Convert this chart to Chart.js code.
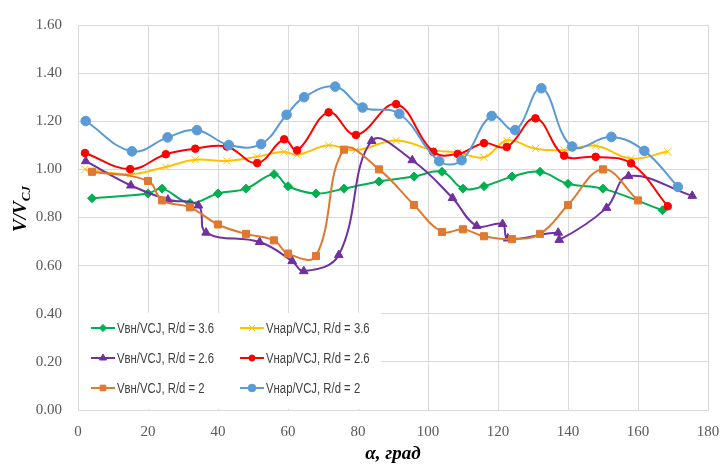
<!DOCTYPE html>
<html>
<head>
<meta charset="utf-8">
<script src="https://cdn.jsdelivr.net/npm/chart.js"></script>
<style>
  html, body { margin: 0; padding: 0; background: #fff; }
  #marco { width: 721px; height: 465px; position: relative; }
</style>
</head>
<body>
<div id="marco"><canvas id="grafica"></canvas></div>
<script>
// Valores: ángulo α (grad) y V/VCJ para cada serie
const angVn36 = [4, 20, 24, 32, 40, 48, 56, 60, 68, 76, 86, 96, 104, 110, 116, 124, 132, 140, 150, 167];
const valVn36 = [0.88, 0.90, 0.92, 0.86, 0.90, 0.92, 0.98, 0.93, 0.90, 0.92, 0.95, 0.97, 0.99, 0.92, 0.93, 0.97, 0.99, 0.94, 0.92, 0.83];

const angNar36 = [2, 15, 25, 33.5, 42.5, 51.2, 58.9, 62.6, 71.6, 79.4, 90.9, 101.5, 108.5, 116, 122.5, 130.7, 138.9, 147.9, 158, 168.5];
const valNar36 = [1.00, 0.98, 1.01, 1.04, 1.035, 1.053, 1.073, 1.06, 1.10, 1.08, 1.12, 1.08, 1.07, 1.05, 1.12, 1.086, 1.08, 1.098, 1.045, 1.074];

const angVn26 = [2.2, 15.1, 25.7, 34.4, 36.6, 51.9, 61.2, 64.5, 74.5, 83.9, 95.5, 107, 113.9, 121.3, 122.8, 137.2, 137.5, 151, 157.3, 175.5];
const valVn26 = [1.034, 0.933, 0.874, 0.85, 0.737, 0.698, 0.619, 0.577, 0.644, 1.118, 1.038, 0.881, 0.765, 0.773, 0.713, 0.737, 0.707, 0.84, 0.972, 0.89];

const angNar26 = [2, 14.9, 25.1, 33.5, 42.5, 51.2, 58.9, 62.6, 71.6, 79.4, 90.9, 101.5, 108.5, 116, 122.5, 130.7, 138.9, 147.9, 158, 168.5];
const valNar26 = [1.068, 1.001, 1.063, 1.086, 1.095, 1.026, 1.125, 1.079, 1.237, 1.143, 1.271, 1.073, 1.064, 1.109, 1.093, 1.212, 1.057, 1.052, 1.025, 0.847];

const angVn2 = [4, 20, 24, 32, 40, 48, 56, 60, 68, 76, 86, 96, 104, 110, 116, 124, 132, 140, 150, 160];
const valVn2 = [0.99, 0.952, 0.871, 0.842, 0.771, 0.732, 0.705, 0.65, 0.64, 1.082, 1.0, 0.852, 0.74, 0.751, 0.722, 0.71, 0.732, 0.852, 1.0, 0.871];

const angNar2 = [2.2, 15.4, 25.6, 34, 43.1, 52.3, 59.6, 64.6, 73.5, 81.3, 91.8, 103.2, 109.6, 118.2, 124.9, 132.4, 141.2, 152.4, 161.8, 171.4];
const valNar2 = [1.201, 1.075, 1.133, 1.163, 1.101, 1.105, 1.227, 1.30, 1.344, 1.257, 1.231, 1.034, 1.038, 1.222, 1.163, 1.337, 1.095, 1.135, 1.077, 0.927];

const nombres = [
  "Vвн/VCJ, R/d = 3.6", "Vнар/VCJ, R/d = 3.6",
  "Vвн/VCJ, R/d = 2.6", "Vнар/VCJ, R/d = 2.6",
  "Vвн/VCJ, R/d = 2",   "Vнар/VCJ, R/d = 2"
];

const puntos = (xs, ys) => xs.map((x, i) => ({ x: x, y: ys[i] }));

const serie = (i, xs, ys, color, estilo, radio, orden) => ({
  label: nombres[i],
  data: puntos(xs, ys),
  borderColor: color,
  backgroundColor: color,
  pointBackgroundColor: color,
  pointBorderColor: color,
  pointStyle: estilo,
  pointRadius: radio,
  pointBorderWidth: 1,
  borderWidth: 2,
  tension: 0.4,
  fill: false,
  order: orden
});

const datasets = [
  serie(0, angVn36, valVn36, '#00B050', 'rectRot', 4.5, 6),
  serie(1, angNar36, valNar36, '#FFC000', 'crossRot', 5, 5),
  serie(2, angVn26, valVn26, '#7030A0', 'triangle', 5, 4),
  serie(3, angNar26, valNar26, '#FF0000', 'circle', 3.8, 3),
  serie(4, angVn2, valVn2, '#E0782F', 'rect', 5, 2),
  serie(5, angNar2, valNar2, '#5B9BD5', 'circle', 4.8, 1)
];

const serif = "'Liberation Serif', 'Times New Roman', serif";

// Títulos de ejes y leyenda dentro del área del gráfico
const rotulos = {
  id: 'rotulos',
  afterDraw(chart) {
    const ctx = chart.ctx;
    const a = chart.chartArea;
    ctx.save();

    // título del eje X
    ctx.fillStyle = '#000';
    ctx.font = 'bold italic 19px ' + serif;
    ctx.textAlign = 'center';
    ctx.textBaseline = 'alphabetic';
    ctx.fillText('α, град', (a.left + a.right) / 2, 459);

    // título del eje Y: V/V con subíndice CJ
    ctx.save();
    ctx.translate(26, 209);
    ctx.rotate(-Math.PI / 2);
    ctx.textAlign = 'left';
    ctx.font = 'bold italic 19px ' + serif;
    const w1 = ctx.measureText('V/V').width;
    ctx.font = 'bold italic 13px ' + serif;
    const w2 = ctx.measureText('CJ').width;
    const x0 = -(w1 + w2) / 2;
    ctx.font = 'bold italic 19px ' + serif;
    ctx.fillText('V/V', x0, 0);
    ctx.font = 'bold italic 13px ' + serif;
    ctx.fillText('CJ', x0 + w1, 4);
    ctx.restore();

    // leyenda
    ctx.fillStyle = '#fff';
    ctx.fillRect(a.left + 1, a.bottom - 97, 302, 96);
    const cols = [a.left + 13, a.left + 162];
    const filas = [a.bottom - 82, a.bottom - 52, a.bottom - 22];
    ctx.font = "14px 'Liberation Sans', Arial, sans-serif";
    ctx.textAlign = 'left';
    ctx.textBaseline = 'middle';
    chart.data.datasets.forEach((ds, i) => {
      const x = cols[i % 2];
      const y = filas[Math.floor(i / 2)];
      ctx.strokeStyle = ds.borderColor;
      ctx.lineWidth = 2;
      ctx.beginPath();
      ctx.moveTo(x, y);
      ctx.lineTo(x + 24, y);
      ctx.stroke();
      ctx.fillStyle = ds.borderColor;
      ctx.lineWidth = 1;
      if (Chart.helpers && Chart.helpers.drawPoint) {
        Chart.helpers.drawPoint(ctx, {
          pointStyle: ds.pointStyle, radius: ds.pointRadius * 0.8, rotation: 0, borderWidth: 1
        }, x + 12, y);
      }
      ctx.fillStyle = '#404040';
      const t = ds.label;
      ctx.fillText(t, x + 26, y + 1, ctx.measureText(t).width * 0.81);
    });
    ctx.restore();
  }
};

new Chart(document.querySelector('#grafica'), {
  type: 'line',
  data: { datasets: datasets },
  plugins: [rotulos],
  options: {
    responsive: true,
    maintainAspectRatio: false,
    animation: false,
    layout: { padding: { top: 18, right: 13, left: 0, bottom: 0 } },
    plugins: {
      legend: { display: false },
      tooltip: { enabled: false }
    },
    scales: {
      x: {
        type: 'linear',
        min: 0,
        max: 180,
        ticks: {
          stepSize: 20,
          color: '#595959',
          font: { family: serif, size: 15 },
          padding: 13,
          maxRotation: 0
        },
        grid: { color: '#D9D9D9', drawTicks: false },
        border: { color: '#D9D9D9' },
        afterFit(s) {
          s.height = 55;
          s.paddingLeft = 0;
          s.paddingRight = 13;
        }
      },
      y: {
        min: 0,
        max: 1.6,
        ticks: {
          stepSize: 0.2,
          color: '#595959',
          font: { family: serif, size: 15 },
          padding: 16,
          callback: v => v.toFixed(2)
        },
        grid: { color: '#D9D9D9', drawTicks: false },
        border: { color: '#D9D9D9' },
        afterFit(s) { s.width = 78; }
      }
    }
  }
});
</script>
</body>
</html>
